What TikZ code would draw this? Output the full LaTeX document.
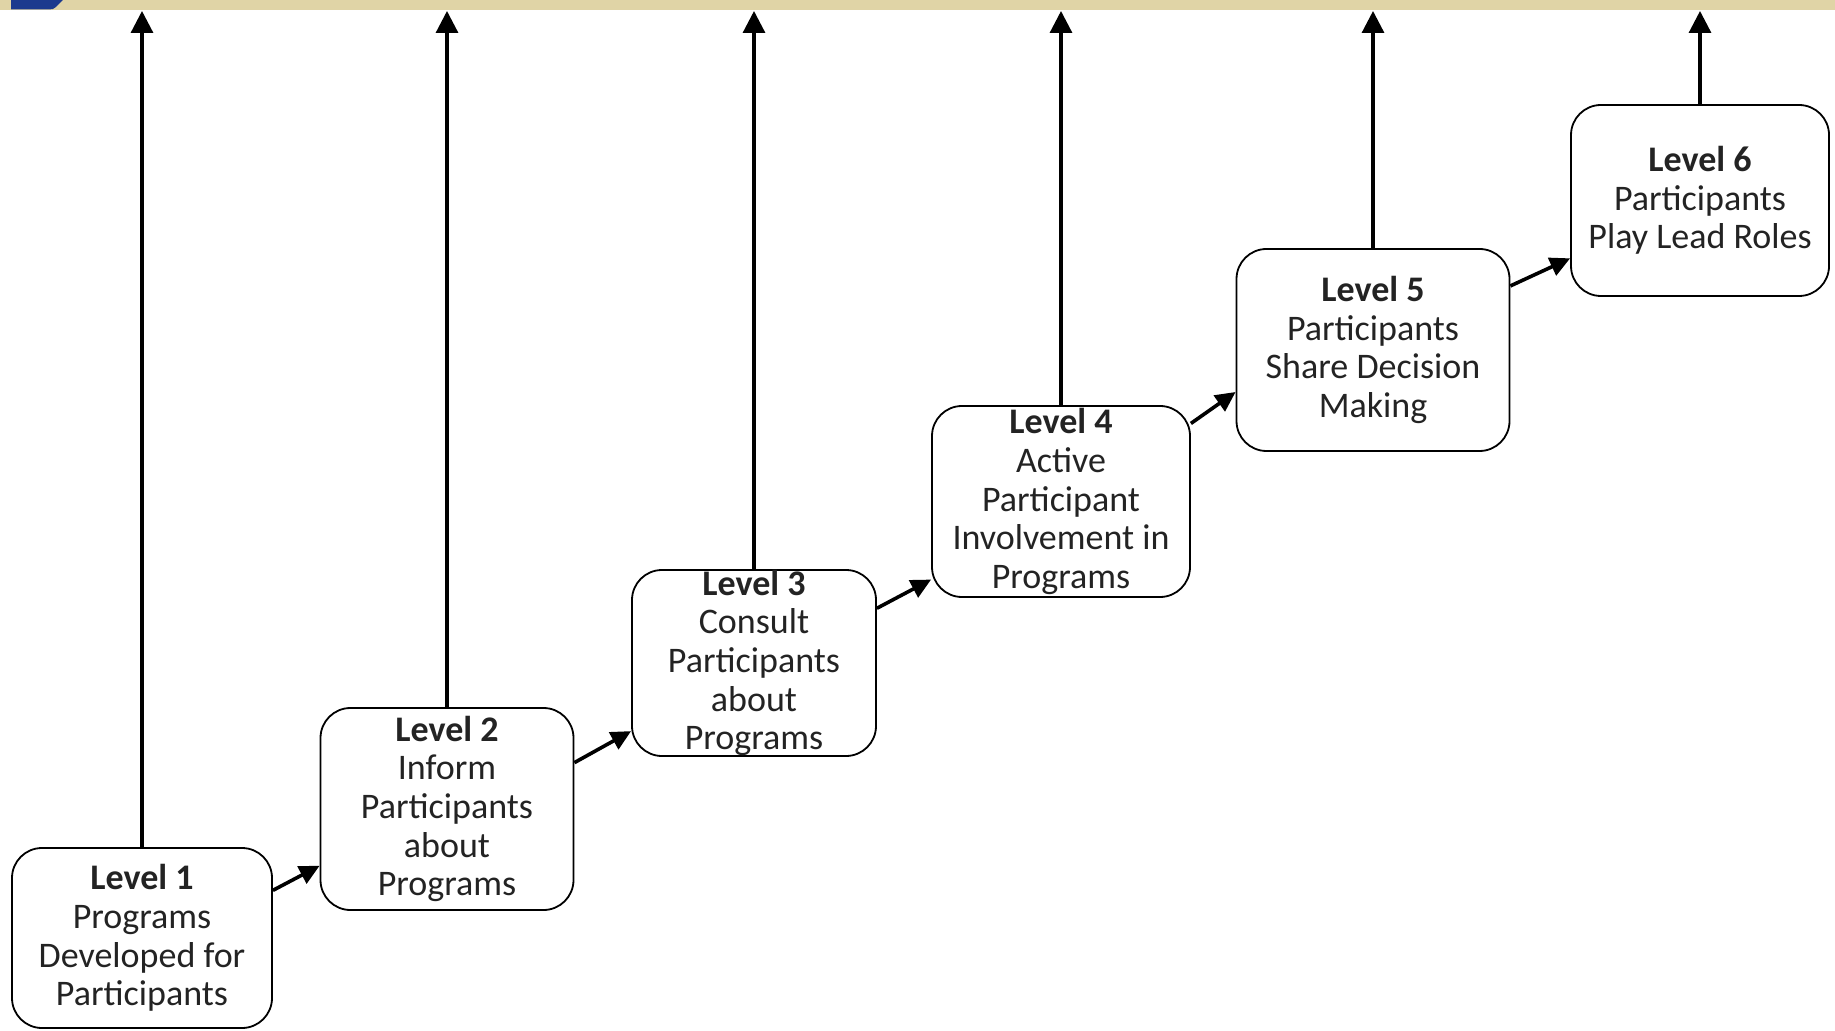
\documentclass[tikz,border=0pt]{standalone}
\usepackage{fontspec}
\setmainfont{Carlito}
\usetikzlibrary{arrows.meta}

\definecolor{barbeige}{RGB}{224,212,166}
\definecolor{barlight}{RGB}{236,228,196}
\definecolor{barblue}{RGB}{28,58,142}
\definecolor{txt}{RGB}{35,35,35}

\begin{document}
\begin{tikzpicture}[x=0.5pt,y=-0.5pt,
	level/.style={draw, line width=0.9pt, rounded corners=15pt, align=center, inner sep=0pt,
		text=txt, font=\fontsize{18}{19.3}\selectfont},
	goal/.style={-{Triangle[width=11pt,length=11pt]}, line width=1.6pt},
	climb/.style={-{Triangle[width=9.5pt,length=10pt]}, line width=1.8pt}]

		\useasboundingbox (0,0) rectangle (1835,1031);

		% band along the top
		\shade[left color=barbeige, middle color=barlight, right color=barbeige] (0,0) rectangle (1835,9.5);
		\fill[barblue] (11,0) -- (63,0) -- (56,7) .. controls (54,9) and (52,9.5) .. (49,9.5) -- (11,9.5) -- cycle;

		\node[level, minimum width=130pt, minimum height=90pt] (L1) at (142,938) {\textbf{Level 1}\\Programs\\Developed for\\Participants};
		\node[level, minimum width=126.5pt, minimum height=101pt] (L2) at (447,809) {\textbf{Level 2}\\Inform\\Participants\\about\\Programs};
		\node[level, minimum width=122pt, minimum height=93pt] (L3) at (754,663) {\textbf{Level 3}\\Consult\\Participants\\about\\Programs};
		\node[level, minimum width=129pt, minimum height=95.5pt] (L4) at (1061,501.5) {\textbf{Level 4}\\Active\\Participant\\Involvement in\\Programs};
		\node[level, minimum width=136.5pt, minimum height=101pt] (L5) at (1373,350) {\textbf{Level 5}\\Participants\\Share Decision\\Making};
		\node[level, minimum width=129pt, minimum height=95.5pt] (L6) at (1700,200.5) {\textbf{Level 6}\\Participants\\Play Lead Roles};

		\coordinate (T1) at (142,11);
		\coordinate (T2) at (447,11);
		\coordinate (T3) at (754,11);
		\coordinate (T4) at (1061,11);
		\coordinate (T5) at (1373,11);
		\coordinate (T6) at (1700,11);

		\draw[goal] (L1) -- (T1);
		\draw[goal] (L2) -- (T2);
		\draw[goal] (L3) -- (T3);
		\draw[goal] (L4) -- (T4);
		\draw[goal] (L5) -- (T5);
		\draw[goal] (L6) -- (T6);

		\draw[climb] (L1.20) -- (L2.204);
		\draw[climb] (L2.20) -- (L3.209);
		\draw[climb] (L3.24) -- (L4.211);
		\draw[climb] (L4.31) -- (L5.197);
		\draw[climb] (L5.25) -- (L6.204);

	\end{tikzpicture}
\end{document}
